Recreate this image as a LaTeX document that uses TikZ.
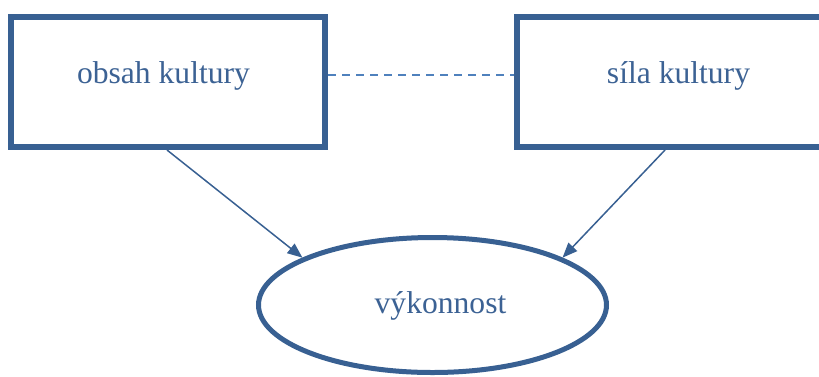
\documentclass[tikz,border=0pt]{standalone}
\usepackage{fontspec}
\setmainfont{Liberation Serif}
\usetikzlibrary{arrows.meta,shapes.geometric}
\definecolor{boxblue}{RGB}{56,96,146}
\definecolor{txtblue}{RGB}{60,98,148}
\definecolor{dashblue}{RGB}{79,129,189}
\tikzset{
  box/.style={draw=boxblue, line width=6pt, fill=white, rectangle, inner sep=0pt},
  oval/.style={draw=boxblue, line width=5pt, fill=white, ellipse, inner sep=0pt,
    minimum width=348pt, minimum height=135pt},
  lbl/.style={text=txtblue, font=\fontsize{31.6pt}{36pt}\selectfont, anchor=base, inner sep=0pt},
  conn/.style={draw=boxblue, line width=1.5pt, -{Triangle[length=15pt,width=12pt]}},
  link/.style={draw=dashblue, line width=2.5pt, dash pattern=on 8pt off 6pt}
}
\begin{document}
\begin{tikzpicture}[x=1pt,y=-1pt]
\useasboundingbox (0,0) rectangle (819,376);
\clip (0,0) rectangle (819,376);
\node[box, minimum width=314pt, minimum height=130pt] (L) at (168,82) {};
\node[box, minimum width=313pt, minimum height=130pt] (R) at (673.5,82) {};
\node[oval] (E) at (432.5,305) {};
\node[lbl] (Lt) at (163.5,83) {obsah kultury};
\node[lbl] (Rt) at (678.5,83) {síla kultury};
\node[lbl] (Et) at (440.5,313) {výkonnost};
\draw[link] ([yshift=7pt]L.east) -- ([yshift=7pt]R.west);
\draw[conn] ([xshift=-1pt]L.south) -- (E.160);
\draw[conn] ([xshift=-8.5pt]R.south) -- (E.20);
\end{tikzpicture}
\end{document}
